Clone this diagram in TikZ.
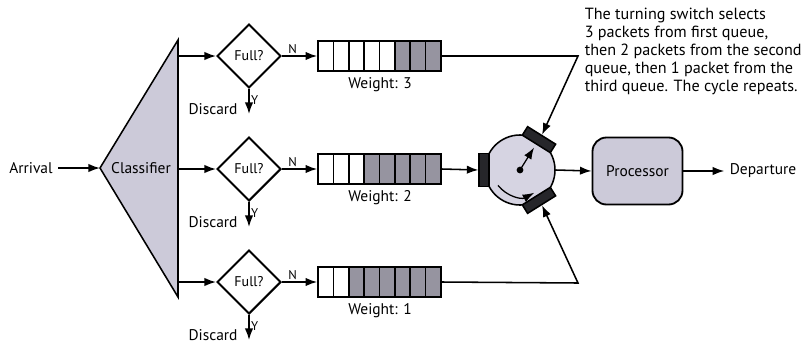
\documentclass[tikz,border=0pt]{standalone}
\usepackage{fontspec}
\setmainfont{PT Sans}
\usetikzlibrary{positioning, shapes.geometric, arrows.meta, calc}

\definecolor{lavgray}{RGB}{204,202,217}
\definecolor{cellgray}{RGB}{150,148,160}
\definecolor{swfill}{RGB}{214,212,226}
\definecolor{gatedark}{RGB}{38,38,42}

\begin{document}
\begin{tikzpicture}[x=0.025cm, y=-0.025cm, line width=1.1pt,
    font=\fontsize{11}{12}\selectfont,
    flow/.style={-{Latex[length=2.9mm,width=2.1mm]}},
    decision/.style={diamond, draw, line width=1.4pt, minimum size=1.6cm,
      inner sep=0pt, font=\fontsize{10}{11}\selectfont},
    queuebox/.style={draw, minimum width=3.075cm, minimum height=0.75cm, inner sep=0pt},
    tag/.style={font=\fontsize{9}{10}\selectfont, inner sep=1pt},
    gate/.style={draw, fill=gatedark, minimum width=0.825cm, minimum height=0.25cm, inner sep=0pt}]
  \useasboundingbox (0,0) rectangle (804,344);

  % classifier
  \coordinate (apex) at (100,168);
  \filldraw[fill=lavgray] (apex) -- (178,40) -- (178,297) -- cycle;
  \node (cls) at (141,168) {Classifier};
  \node (arr) at (31,168) {Arrival};
  \draw[flow] (arr) -- (apex);

  % three branches: decision, queue, weight
  \foreach \y/\nw/\w/\n in {56/5/3/1, 169/3/2/2, 282/2/1/3} {
    \coordinate (out\n) at (178,\y);
    \node[decision] (full\n) at (249,\y) {Full?};
    \draw[flow] (out\n) -- (full\n);

    \node[queuebox] (q\n) at (379.5,\y) {};
    \foreach \k in {0,...,7} {
      \ifnum\k<\nw \def\cellcol{white}\else\def\cellcol{cellgray}\fi
      \draw[fill=\cellcol] ({318+\k*15.375},{\y-15}) rectangle ++(15.375,30);
    }
    \node (w\n) at (380,\y+29) {Weight: \w};
    \draw[flow] (full\n.east) -- node[tag, above, pos=0.3] {N} (q\n.west);

    \coordinate (d\n) at (249,\y+58);
    \draw[flow] (full\n.south) -- node[tag, right, pos=0.45] {Y} (d\n);
    \node[anchor=east] (dis\n) at (243,\y+53) {Discard};
  }

  % turning switch
  \node[circle, draw, fill=swfill, minimum size=1.75cm, inner sep=0pt] (sw) at (520,170) {};
  \node[gate, rotate=90] (gl) at (sw.180) {};
  \node[gate, rotate=-32] (gt) at (sw.58) {};
  \node[gate, rotate=32] (gb) at (sw.-58) {};
  \fill (sw.center) circle (2.4pt);
  \draw[flow, line width=0.9pt] (sw.center) -- ($(sw.center)!0.74!(sw.58)$);
  \coordinate (rs) at ($(sw.center)!0.75!(sw.215)$);
  \coordinate (re) at ($(sw.center)!0.75!(sw.302)$);
  \draw[flow, line width=0.9pt] (rs) to[bend right=40] (re);

  \coordinate (tc) at (578,56);
  \coordinate (bc) at (578,283);
  \draw[flow] (q1.east) -- (tc) -- (gt.north);
  \draw[flow] (q2.east) -- (gl.north);
  \draw[flow] (q3.east) -- (bc) -- (gb.south);

  % processor
  \node[draw, fill=lavgray, rounded corners=0.35cm, line width=1.3pt,
    minimum width=2.25cm, minimum height=1.675cm] (proc) at (637.5,171) {Processor};
  \draw[flow] (sw.east) -- (proc.west);
  \node (dep) at (763,171) {Departure};
  \draw[flow] (proc.east) -- (dep.west);

  \node[anchor=north west, align=left, inner sep=0pt,
    font=\fontsize{11.5}{12.9}\selectfont] (note) at (584,7)
    {The turning switch selects\\3 packets from first queue,\\then 2 packets from the second\\queue, then 1 packet from the\\third queue. The cycle repeats.};
\end{tikzpicture}
\end{document}
